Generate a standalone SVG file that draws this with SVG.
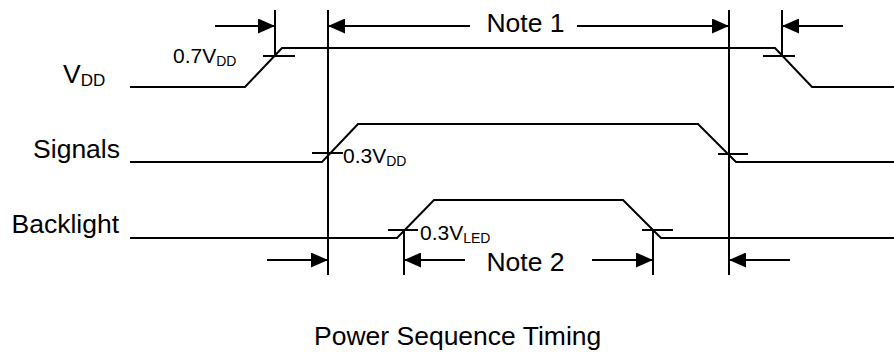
<svg xmlns="http://www.w3.org/2000/svg" width="894" height="353" viewBox="0 0 894 353">
<style>
.w{fill:none;stroke:#000;stroke-width:2}
.t{font-family:"Liberation Sans",Arial,sans-serif;fill:#000}
.big{font-size:26.5px}
.sm{font-size:21px}
.sub{font-size:14px}
.sub2{font-size:17px}
</style>
<defs>
<marker id="ah" markerUnits="userSpaceOnUse" markerWidth="17" markerHeight="15" refX="17" refY="7.5" orient="auto">
<path d="M0,0 L17,7.5 L0,15 Z" fill="#000"/>
</marker>
</defs>
<rect width="894" height="353" fill="#fff"/>
<g id="vdd">
<text class="t big" x="63" y="83">V<tspan class="sub2" dy="3">DD</tspan></text>
<path class="w" d="M130,87 H245 L282,48 H775 L812,87 H894"/>
<path class="w" d="M263,56 H295 M763,56 H795"/>
<text class="t sm" x="173" y="63">0.7V<tspan class="sub" dy="3">DD</tspan></text>
</g>
<g id="signals">
<text class="t big" x="120" y="158" text-anchor="end">Signals</text>
<path class="w" d="M130,162 H322 L358,124 H698 L736,162 H894"/>
<path class="w" d="M312,153 H343 M718,154 H748"/>
<text class="t sm" x="343" y="163">0.3V<tspan class="sub" dy="3">DD</tspan></text>
</g>
<g id="backlight">
<text class="t big" x="119" y="233" text-anchor="end">Backlight</text>
<path class="w" d="M130,238 H397 L434,200 H623 L661,238 H894"/>
<path class="w" d="M388,230 H418 M642,230 H673"/>
<text class="t sm" x="420" y="240">0.3V<tspan class="sub" dy="3">LED</tspan></text>
</g>
<g id="connectors">
<path class="w" d="M275,10 V56 M328,10 V275 M729,10 V275 M782,10 V56 M404,230 V275 M653,230 V275"/>
<line class="w" x1="215" y1="26" x2="275" y2="26" marker-end="url(#ah)"/>
<line class="w" x1="470" y1="26" x2="328" y2="26" marker-end="url(#ah)"/>
<line class="w" x1="577" y1="26" x2="729" y2="26" marker-end="url(#ah)"/>
<line class="w" x1="843" y1="26" x2="782" y2="26" marker-end="url(#ah)"/>
<line class="w" x1="267" y1="260" x2="328" y2="260" marker-end="url(#ah)"/>
<line class="w" x1="465" y1="260" x2="404" y2="260" marker-end="url(#ah)"/>
<line class="w" x1="592" y1="260" x2="653" y2="260" marker-end="url(#ah)"/>
<line class="w" x1="790" y1="260" x2="729" y2="260" marker-end="url(#ah)"/>
</g>
<g id="labels">
<text class="t big" x="525.5" y="32" text-anchor="middle">Note 1</text>
<text class="t big" x="525.5" y="271" text-anchor="middle">Note 2</text>
<text class="t big" x="314" y="345">Power Sequence Timing</text>
</g>
</svg>
